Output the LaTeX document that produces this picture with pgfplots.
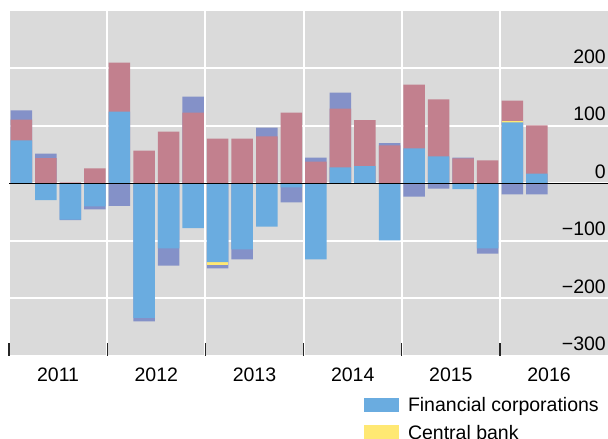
\documentclass[border=0pt]{standalone}
\usepackage{pgfplots}
\pgfplotsset{compat=1.18}
\usepackage{fontspec}
\setmainfont{Liberation Sans}
\definecolor{bg}{RGB}{218,218,218}
\definecolor{fcblue}{RGB}{106,172,224}
\definecolor{cbyellow}{RGB}{255,232,115}
\definecolor{rosepink}{RGB}{194,128,142}
\definecolor{slate}{RGB}{132,145,200}
\pgfplotsset{bars/.style={ybar, bar width=0.875, bar shift=0pt, draw=none, fill=#1, forget plot}}
\begin{document}
\begin{tikzpicture}
\useasboundingbox (0,0) rectangle (608bp,439bp);
\begin{axis}[
  at={(9bp,83.2bp)}, anchor=south west,
  scale only axis, width=599bp, height=344.8bp,
  xmin=0, xmax=24.4, ymin=-300, ymax=300,
  axis background/.style={fill=bg},
  axis line style={draw=none},
  tick label style={font=\fontsize{19.5bp}{23bp}\selectfont},
  xtick={0,4,8,12,16,20}, xticklabels={,,,,,},
  extra x ticks={2,6,10,14,18,22},
  extra x tick labels={2011,2012,2013,2014,2015,2016},
  extra x tick style={grid=none, major tick length=0pt},
  xticklabel style={anchor=base, inner sep=0pt, yshift=-25.9bp},
  xtick pos=bottom, tick align=inside, major tick length=13bp,
  xtick style={draw=black!85, line width=1.3bp},
  ytick={-300,-200,-100,0,100,200},
  yticklabels={−300,−200,−100,0,100,200},
  yticklabel pos=right,
  yticklabel style={anchor=base east, inner sep=0pt, xshift=-2bp, yshift=5bp},
  ytick style={draw=none},
  grid=major, grid style={white, line width=2bp},
  legend style={at={(0.59265,-0.12152)}, anchor=north west, draw=none, fill=none,
    inner sep=0pt, outer sep=0pt, font=\fontsize{19.5bp}{23bp}\selectfont,
    nodes={inner sep=0pt, text height=14bp, text depth=0pt},
    cells={anchor=base west}, column sep=9bp, row sep=13.3bp},
  legend image code/.code={\fill[#1, draw=none] (0bp,0bp) rectangle (35bp,14bp);},
]
% positive side, drawn from the top layer down
\addplot[bars=slate] coordinates {(0.5,127) (1.5,52) (7.5,151) (10.5,97) (12.5,45) (13.5,158) (15.5,70) (18.5,45)};
\addplot[bars=rosepink] coordinates {(0.5,111) (1.5,44) (2.5,2) (3.5,26) (4.5,210) (5.5,57) (6.5,90) (7.5,123) (8.5,78) (9.5,78) (10.5,82) (11.5,123) (12.5,38) (13.5,130) (14.5,110) (15.5,66) (16.5,172) (17.5,146) (18.5,43.5) (19.5,40) (20.5,144) (21.5,101)};
\addplot[bars=cbyellow] coordinates {(20.5,108)};
\addplot[bars=fcblue] coordinates {(0.5,75) (4.5,125) (13.5,28) (14.5,30) (16.5,61) (17.5,47) (20.5,106) (21.5,17)};
% negative side
\addplot[bars=slate] coordinates {(2.5,-64) (3.5,-45) (4.5,-39) (5.5,-240) (6.5,-143) (8.5,-148) (9.5,-132) (11.5,-33) (16.5,-23) (17.5,-9) (19.5,-122) (20.5,-19) (21.5,-19)};
\addplot[bars=cbyellow] coordinates {(8.5,-142)};
\addplot[bars=fcblue] coordinates {(1.5,-29) (2.5,-63) (3.5,-40) (5.5,-234) (6.5,-113) (7.5,-78) (8.5,-137) (9.5,-115) (10.5,-75) (11.5,-7) (12.5,-132) (15.5,-99) (18.5,-10) (19.5,-113)};
% zero line
\addplot[black, line width=1.3bp, forget plot] coordinates {(0,0) (24.4,0)};
\addlegendimage{fill=fcblue, draw=none}
\addlegendentry{Financial corporations}
\addlegendimage{fill=cbyellow, draw=none}
\addlegendentry{Central bank}
\end{axis}
\end{tikzpicture}
\end{document}
